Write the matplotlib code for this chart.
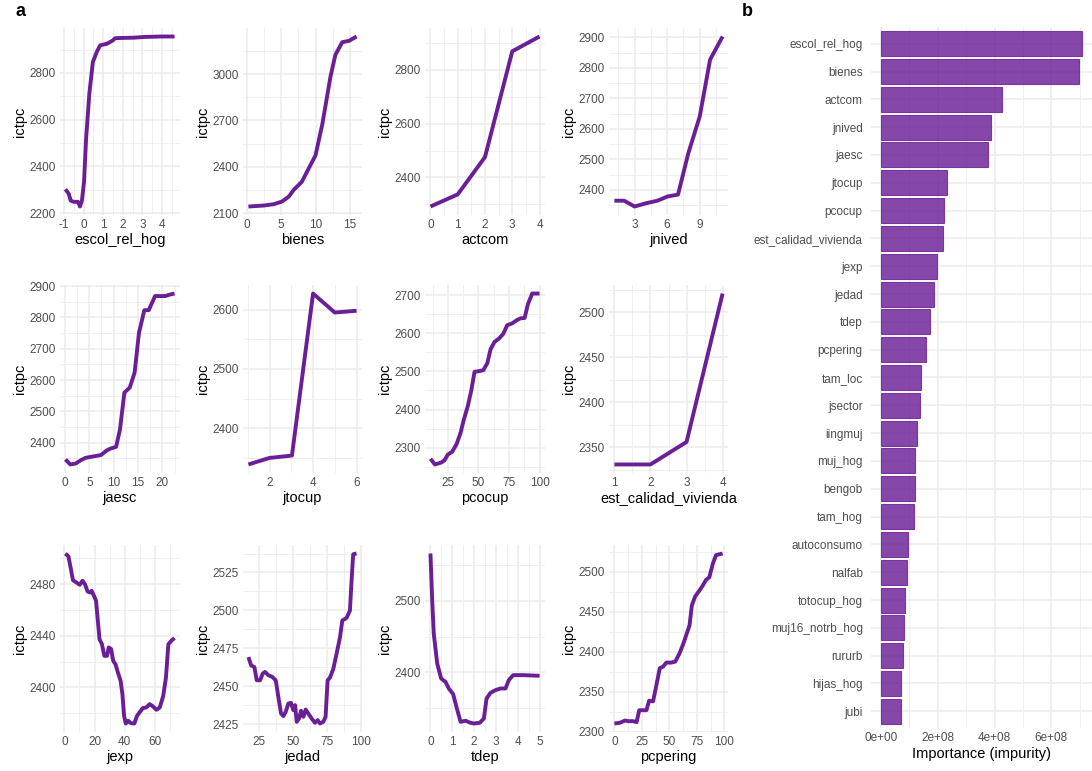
import matplotlib
matplotlib.use("Agg")
import matplotlib.pyplot as plt
import numpy as np

plt.rcParams['font.family'] = ['Liberation Sans', 'DejaVu Sans']
plt.rcParams['axes.unicode_minus'] = False

PURPLE = '#6A1F96'
GRID = '#EBEBEB'

# partial dependence data
escol_x = [-0.93, -0.76, -0.66, -0.5, -0.29, -0.19, -0.09, 0.02, 0.12, 0.29, 0.47, 0.67, 0.84, 1.19, 1.45, 1.62, 2.57, 3.09, 3.95, 4.64]
escol_y = [2302, 2282, 2253, 2248, 2248, 2228, 2253, 2335, 2513, 2712, 2847, 2890, 2918, 2925, 2937, 2949, 2951, 2954, 2956, 2956]

bienes_x = [0.2, 2.4, 3.9, 5.1, 6.1, 6.8, 8.0, 9.0, 10.0, 11.0, 12.2, 12.9, 13.9, 14.9, 16.0]
bienes_y = [2143, 2149, 2158, 2175, 2207, 2250, 2303, 2389, 2474, 2677, 2987, 3125, 3207, 3216, 3244]

actcom_x = [0, 1, 2, 3, 4]
actcom_y = [2292, 2337, 2476, 2869, 2924]

jnived_x = [1.15, 2.05, 3, 4.1, 5.1, 6.05, 7.0, 7.95, 9.0, 9.95, 11.1]
jnived_y = [2364, 2364, 2345, 2356, 2364, 2378, 2384, 2520, 2641, 2827, 2903]

jaesc_x = [0.1, 1.1, 2.2, 3.2, 4.2, 5.6, 7.4, 8.6, 9.4, 10.5, 11.3, 12.2, 13.3, 14.3, 15.2, 16.3, 17.2, 18.5, 20.6, 21.6, 22.5]
jaesc_y = [2347, 2331, 2334, 2344, 2352, 2356, 2361, 2376, 2382, 2387, 2443, 2560, 2576, 2624, 2751, 2823, 2823, 2868, 2868, 2873, 2876]

jtocup_x = [1.03, 2, 3.03, 4, 5, 6]
jtocup_y = [2339, 2350, 2354, 2627, 2595, 2598]

pcocup_x = [10.8, 14.4, 19.6, 22.3, 25, 28.5, 32.1, 35.4, 38.1, 41.3, 44.1, 46.8, 49.5, 53.9, 57.2, 59.9, 63.1, 66.7, 70.2, 73.5, 77.6, 81.7, 84.4, 87.7, 90.4, 93.9, 99.9]
pcocup_y = [2271, 2256, 2261, 2267, 2282, 2289, 2309, 2339, 2374, 2409, 2449, 2499, 2500, 2503, 2521, 2558, 2577, 2586, 2598, 2621, 2626, 2635, 2639, 2640, 2676, 2704, 2704]

calidad_x = [1, 2, 3, 4]
calidad_y = [2331, 2331, 2356, 2521]

jexp_x = [0.7, 2.7, 4.1, 5.7, 7.9, 10.2, 12.0, 13.6, 15.4, 17, 18.1, 19.9, 21.0, 22.2, 23.3, 24.9, 26.5, 28.3, 29.4, 31.0, 32.4, 33.9, 35.5, 37.3, 38.5, 39.6, 40.7, 42.3, 44.1, 46.4, 48.2, 49.8, 52, 54.3, 56.6, 58.8, 61.1, 63.3, 65.6, 67.4, 69.0, 71.3, 73.1]
jexp_y = [2503.7, 2501.4, 2492.9, 2483, 2481.3, 2479.5, 2482.6, 2480, 2474.3, 2473.5, 2474.8, 2470.2, 2467.1, 2451.6, 2437.4, 2433.5, 2424.5, 2424.5, 2431, 2429.7, 2420.6, 2418, 2411.6, 2405.2, 2394.8, 2378, 2372.1, 2374.2, 2372.4, 2372.1, 2378, 2380.6, 2384, 2384.5, 2387.1, 2385.3, 2382.7, 2384.5, 2393.5, 2407.7, 2433.5, 2436.6, 2438.2]

jedad_x = [17.4, 19.4, 21.8, 23.5, 26.0, 27.9, 29.6, 32.1, 35, 37.5, 39.4, 41.4, 43.1, 44.8, 46.8, 48.7, 50.4, 51.7, 52.9, 54.6, 56.1, 57.8, 59.5, 61.4, 63.9, 66.3, 68.3, 70.0, 72.4, 74.1, 75.6, 77.3, 79.8, 82.2, 84.7, 86.4, 89.5, 92.0, 93.2, 94.4, 96.9]
jedad_y = [2469.2, 2463.7, 2462.6, 2453.9, 2453.9, 2458.3, 2459.4, 2457.2, 2456.1, 2453.9, 2442.9, 2432, 2430.3, 2433.1, 2438.6, 2439, 2434.2, 2437.5, 2426.5, 2428.7, 2433.8, 2429.8, 2434.6, 2432, 2428.7, 2425.9, 2427.6, 2425.4, 2426.5, 2429.8, 2453.9, 2455.6, 2461.5, 2471.4, 2482.3, 2493.3, 2495, 2499.8, 2519.5, 2537, 2537.5]

tdep_x = [0, 0.08, 0.15, 0.31, 0.49, 0.69, 0.84, 1.04, 1.19, 1.38, 1.61, 1.83, 1.99, 2.26, 2.45, 2.57, 2.75, 2.98, 3.21, 3.44, 3.59, 3.79, 4.28, 5.0]
tdep_y = [2566.4, 2500.9, 2454.2, 2412.1, 2391.1, 2386.4, 2377.1, 2369.2, 2351.4, 2330.4, 2331.8, 2329, 2328, 2329, 2335, 2363, 2371, 2374.8, 2377.1, 2377.1, 2388.8, 2395.8, 2395.8, 2394.9]

pcpering_x = [0, 5.1, 9.6, 12.7, 17.2, 20.2, 22.6, 26.2, 29.2, 31.6, 35.2, 38.3, 41.3, 44.3, 47.3, 51.8, 55.4, 59.3, 62.3, 65.4, 68.4, 70.5, 73.5, 77.4, 80.4, 83.4, 86.4, 89.5, 92.5, 98.5]
pcpering_y = [2310.3, 2311.2, 2314, 2313.2, 2313.2, 2312, 2326.9, 2326.9, 2326.9, 2338.8, 2338, 2358.7, 2379.3, 2381.4, 2386.4, 2386.4, 2387.6, 2398, 2408.3, 2420.7, 2433, 2457.9, 2469, 2476.4, 2482.6, 2489.7, 2493, 2509.5, 2520.7, 2522.7]

# variable importance
imp_names = ['escol_rel_hog', 'bienes', 'actcom', 'jnived', 'jaesc', 'jtocup', 'pcocup',
             'est_calidad_vivienda', 'jexp', 'jedad', 'tdep', 'pcpering', 'tam_loc', 'jsector',
             'iingmuj', 'muj_hog', 'bengob', 'tam_hog', 'autoconsumo', 'nalfab', 'totocup_hog',
             'muj16_notrb_hog', 'rururb', 'hijas_hog', 'jubi']
imp_vals = [7.08e8, 6.97e8, 4.25e8, 3.89e8, 3.78e8, 2.31e8, 2.20e8, 2.18e8, 1.98e8, 1.86e8,
            1.71e8, 1.58e8, 1.39e8, 1.38e8, 1.25e8, 1.19e8, 1.18e8, 1.17e8, 0.94e8, 0.90e8,
            0.84e8, 0.80e8, 0.78e8, 0.72e8, 0.71e8]

panels = [
    ('escol_rel_hog', escol_x, escol_y, [-1, 0, 1, 2, 3, 4], [2200, 2400, 2600, 2800]),
    ('bienes', bienes_x, bienes_y, [0, 5, 10, 15], [2100, 2400, 2700, 3000]),
    ('actcom', actcom_x, actcom_y, [0, 1, 2, 3, 4], [2400, 2600, 2800]),
    ('jnived', jnived_x, jnived_y, [3, 6, 9], [2400, 2500, 2600, 2700, 2800, 2900]),
    ('jaesc', jaesc_x, jaesc_y, [0, 5, 10, 15, 20], [2400, 2500, 2600, 2700, 2800, 2900]),
    ('jtocup', jtocup_x, jtocup_y, [2, 4, 6], [2400, 2500, 2600]),
    ('pcocup', pcocup_x, pcocup_y, [25, 50, 75, 100], [2300, 2400, 2500, 2600, 2700]),
    ('est_calidad_vivienda', calidad_x, calidad_y, [1, 2, 3, 4], [2350, 2400, 2450, 2500]),
    ('jexp', jexp_x, jexp_y, [0, 20, 40, 60], [2400, 2440, 2480]),
    ('jedad', jedad_x, jedad_y, [25, 50, 75, 100], [2425, 2450, 2475, 2500, 2525]),
    ('tdep', tdep_x, tdep_y, [0, 1, 2, 3, 4, 5], [2400, 2500]),
    ('pcpering', pcpering_x, pcpering_y, [0, 25, 50, 75, 100], [2300, 2350, 2400, 2450, 2500]),
]

W, H = 1092, 771
fig = plt.figure(figsize=(W / 100, H / 100), dpi=100)


def px_axes(x0, y0, x1, y1):
    return fig.add_axes([x0 / W, 1 - y1 / H, (x1 - x0) / W, (y1 - y0) / H])


def minors(t):
    step = t[1] - t[0]
    return [t[0] - step / 2] + [(a + b) / 2 for a, b in zip(t[:-1], t[1:])] + [t[-1] + step / 2]


def expand(v):
    lo, hi = min(v), max(v)
    d = (hi - lo) * 0.05
    return lo - d, hi + d


def theme(ax):
    for s in ax.spines.values():
        s.set_visible(False)
    ax.tick_params(which='both', length=0, colors='#4D4D4D', labelsize=8.5, pad=3)
    ax.set_axisbelow(True)


col_x = [(60, 180), (243, 362), (425, 545), (609, 728)]
row_y = [(28, 215), (285, 473), (545, 732)]

for i, (name, xs, ys, xt, yt) in enumerate(panels):
    r, c = divmod(i, 4)
    ax = px_axes(col_x[c][0], row_y[r][0], col_x[c][1], row_y[r][1])
    ax.plot(xs, ys, color=PURPLE, lw=2.8, solid_capstyle='butt', solid_joinstyle='round')
    ax.set_xticks(xt)
    ax.set_yticks(yt)
    ax.set_xticks(minors(xt), minor=True)
    ax.set_yticks(minors(yt), minor=True)
    ax.set_xlim(*expand(xs))
    ax.set_ylim(*expand(ys))
    ax.grid(which='major', color=GRID, lw=1.1)
    ax.grid(which='minor', color=GRID, lw=0.55)
    theme(ax)
    ax.set_xlabel(name, fontsize=10.5, labelpad=1)
    ax.set_ylabel('ictpc', fontsize=10.5, labelpad=2)

# importance bars
axb = px_axes(871, 27, 1092, 728)
pos = np.arange(len(imp_names))[::-1]
axb.barh(pos, imp_vals, height=0.9, color=PURPLE, alpha=0.82, edgecolor=PURPLE, lw=0.8)
axb.set_yticks(pos)
axb.set_yticklabels(imp_names)
axb.set_ylim(-0.6, len(imp_names) - 0.4)
xt = [0, 2e8, 4e8, 6e8]
axb.set_xticks(xt)
axb.set_xticklabels(['0e+00', '2e+08', '4e+08', '6e+08'])
axb.set_xticks([1e8, 3e8, 5e8, 7e8], minor=True)
axb.set_xlim(-0.354e8, 7.43e8)
axb.grid(which='major', color=GRID, lw=1.1)
axb.grid(which='minor', axis='x', color=GRID, lw=0.55)
theme(axb)
axb.tick_params(axis='y', labelsize=8.5, pad=6)
axb.set_xlabel('Importance (impurity)', fontsize=10.5, labelpad=2)

fig.text(15 / W, 1 - 12 / H, 'a', fontsize=13, fontweight='bold', va='center', ha='left')
fig.text(742 / W, 1 - 12 / H, 'b', fontsize=13, fontweight='bold', va='center', ha='left')

fig.savefig('out.png', dpi=100, facecolor='white')
